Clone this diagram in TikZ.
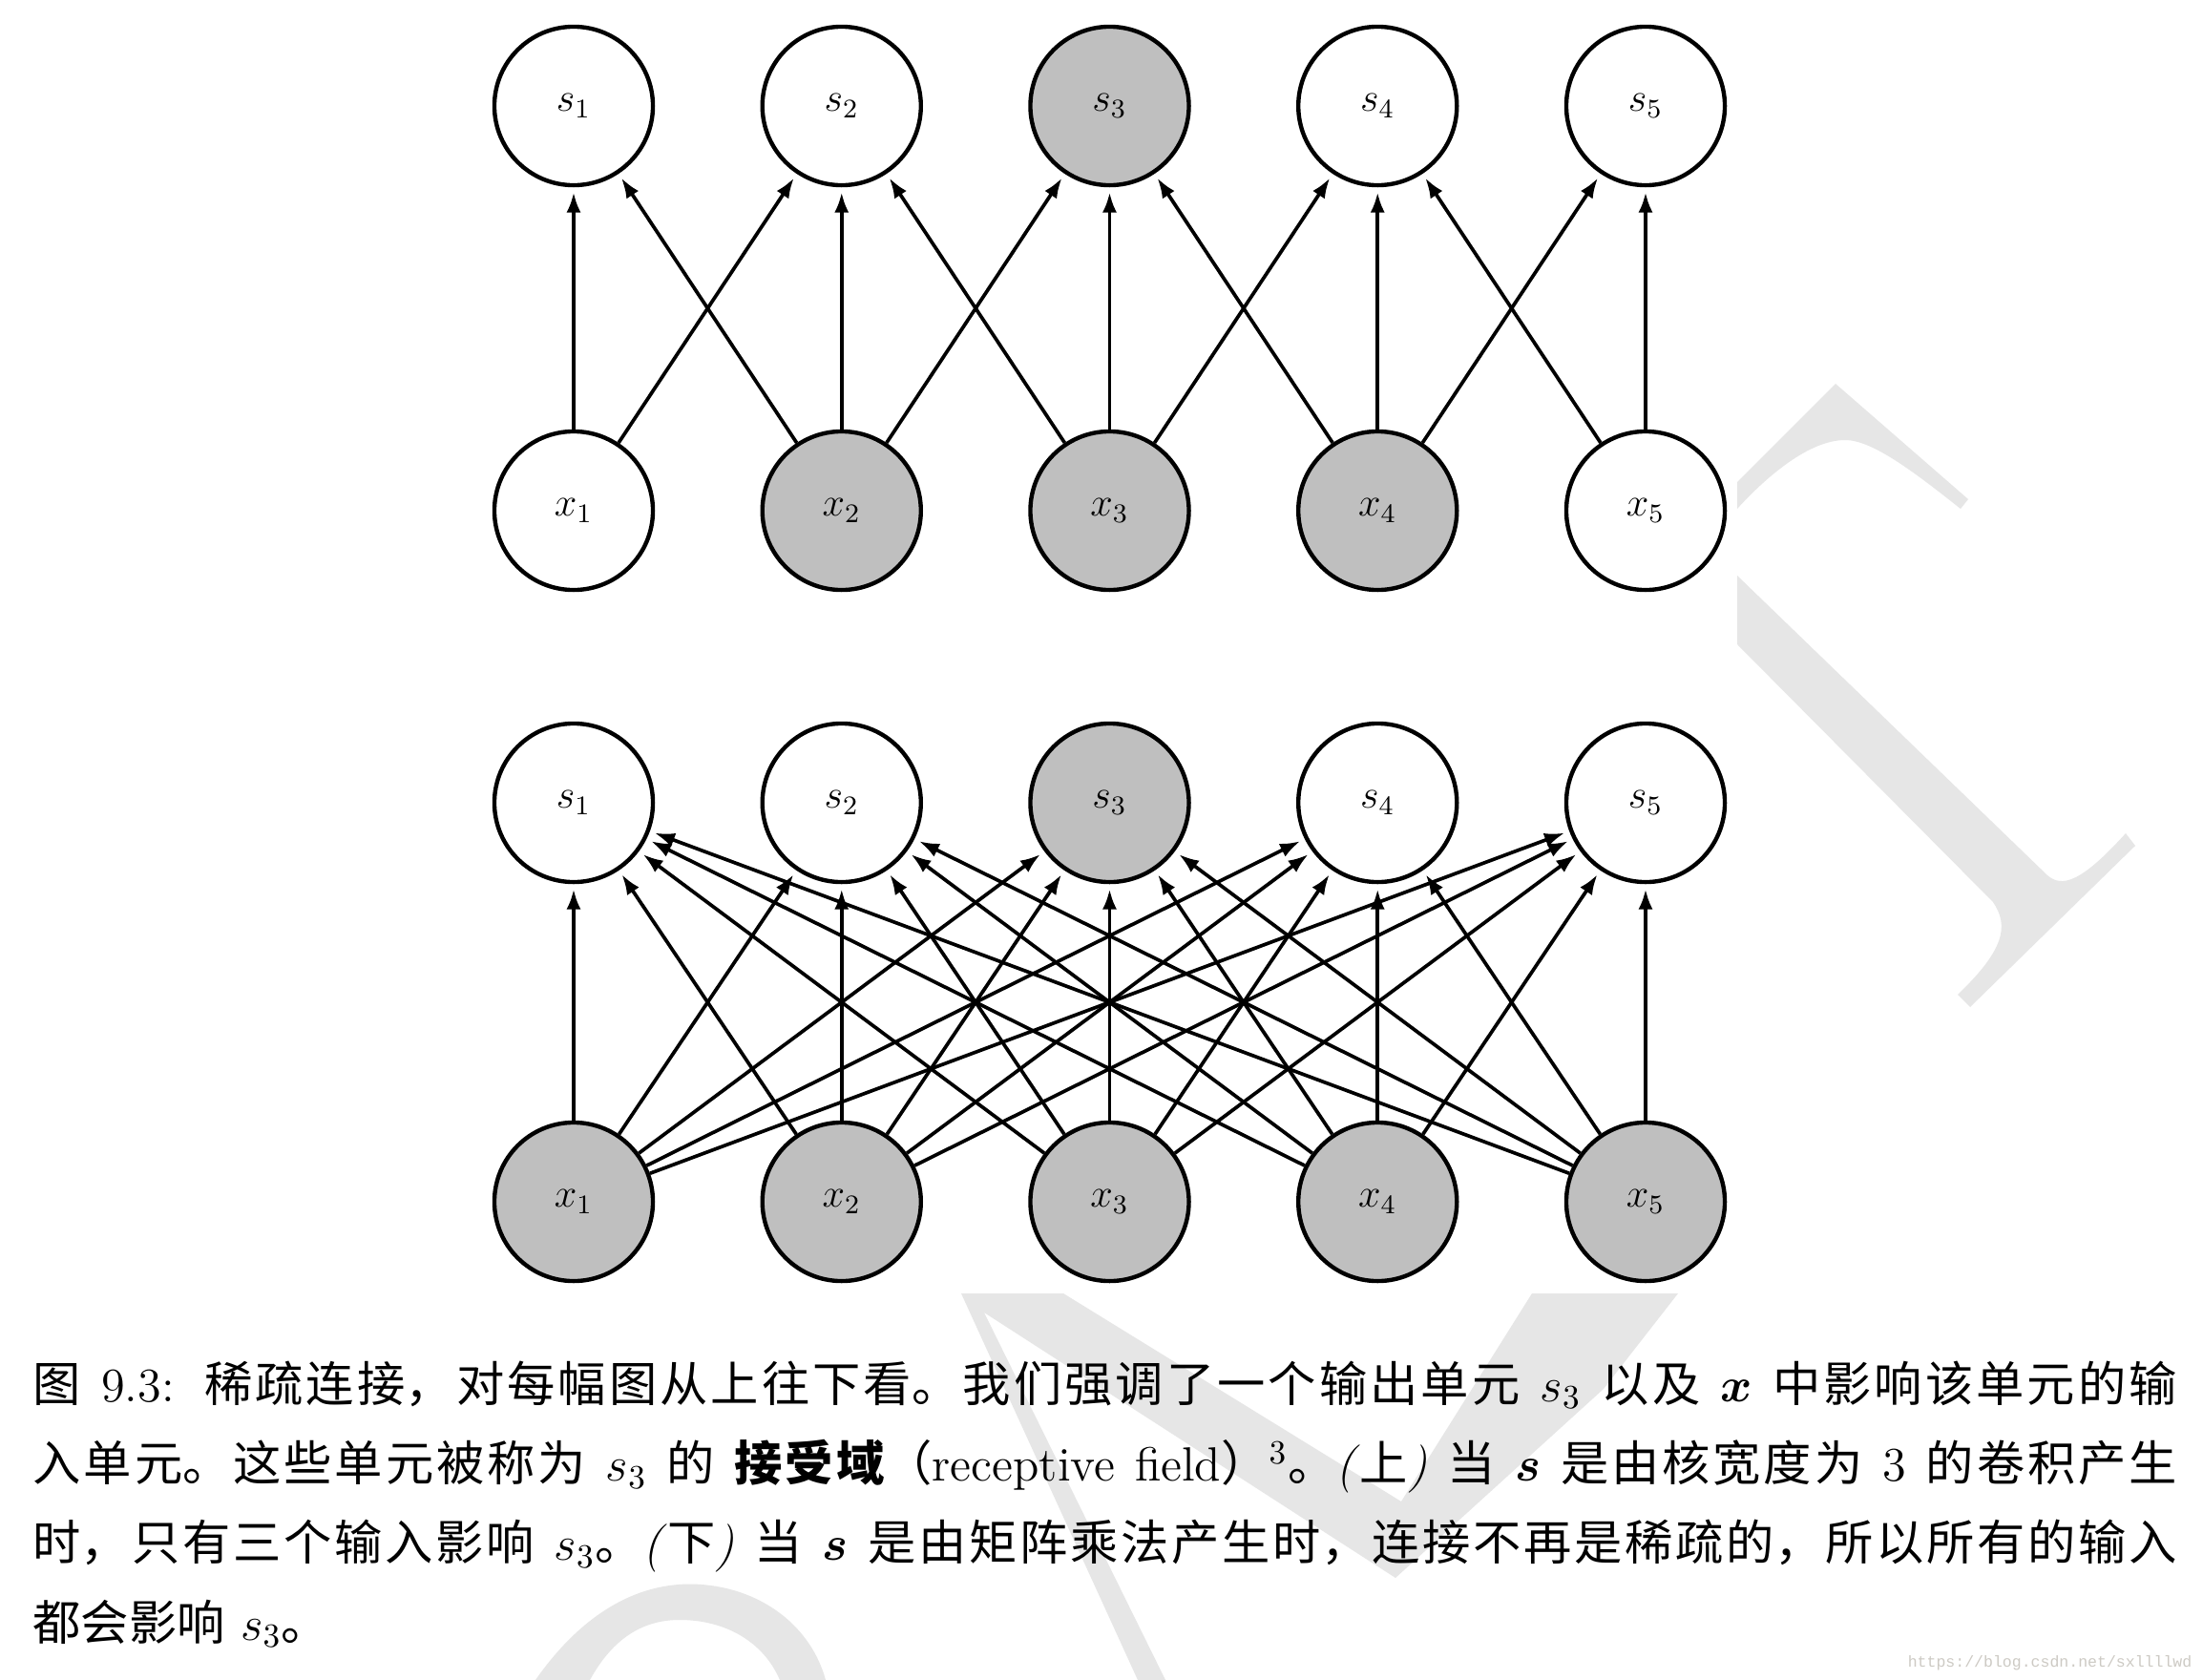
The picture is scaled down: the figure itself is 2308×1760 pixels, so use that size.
\documentclass[tikz,border=0pt]{standalone}
\usepackage{fontspec}
\usepackage{amsmath}
\usepackage{tikz}
\usetikzlibrary{arrows.meta, positioning, calc}
\newfontfamily\cjk{Noto Sans CJK SC}
\newfontfamily\urlfont{Liberation Mono}
\XeTeXlinebreaklocale "zh"
\XeTeXlinebreakskip = 0pt plus 1.5pt
\definecolor{unitgray}{RGB}{191,191,191}
\definecolor{markgray}{RGB}{230,230,230}
\definecolor{urlgray}{RGB}{205,202,196}
\tikzstyle{unit} = [circle, draw, line width=1.25pt, minimum size=1.66cm, inner sep=0pt, font=\fontsize{12}{14}\selectfont]
\tikzstyle{hit} = [unit, fill=unitgray]
\tikzstyle{arrow} = [line width=1.05pt, -{Latex[length=6pt,width=4.3pt]}, shorten >=1.5pt]
\tikzstyle{wmark} = [fill=markgray, draw=none]

\begin{document}
\begin{tikzpicture}[x=0.01cm, y=-0.01cm]
\fill[white] (0,0) rectangle (2308,1760);
\useasboundingbox (0,0) rectangle (2308,1760);

% watermark pieces
\path[wmark] (1820,505) -- (1923,402) -- (2062,523) -- (2054,533) .. controls (2000,490) and (1960,461) .. (1933,461) .. controls (1895,461) and (1850,500) .. (1820,533) -- cycle;
\path[wmark] (1820,603) -- (2145,917) .. controls (2160,930) and (2180,925) .. (2227,873) -- (2237,886) -- (2064,1055) -- (2051,1042) .. controls (2100,995) and (2105,970) .. (2088,945) -- (1820,675) -- cycle;
\path[wmark] (1007,1355) -- (1114,1355) -- (1468,1573) -- (1605,1355) -- (1758,1355) -- (1680,1455) -- (1462,1653) -- (1031,1375) -- (1221,1760) -- (1192,1760) -- cycle;
\path[wmark] (561,1760) .. controls (610,1690) and (670,1655) .. (735,1660) .. controls (800,1665) and (850,1705) .. (865,1760) -- (817,1760) .. controls (800,1720) and (760,1697) .. (712,1697) .. controls (670,1697) and (640,1720) .. (618,1760) -- cycle;

% sparse (top)
\foreach \i/\st in {1/unit,2/unit,3/hit,4/unit,5/unit}
  \node[\st] (ts\i) at ({601+280.75*(\i-1)},111) {$s_{\i}$};
\foreach \i/\st in {1/unit,2/hit,3/hit,4/hit,5/unit}
  \node[\st] (tx\i) at ({601+280.75*(\i-1)},535) {$x_{\i}$};
\foreach \i/\j in {1/1,1/2,2/1,2/2,2/3,3/2,3/3,3/4,4/3,4/4,4/5,5/4,5/5}
  \draw[arrow] (tx\i) -- (ts\j);

% dense (bottom)
\foreach \i/\st in {1/unit,2/unit,3/hit,4/unit,5/unit}
  \node[\st] (bs\i) at ({601+280.75*(\i-1)},841) {$s_{\i}$};
\foreach \i in {1,...,5}
  \node[hit] (bx\i) at ({601+280.75*(\i-1)},1259) {$x_{\i}$};
\foreach \i in {1,...,5}
  \foreach \j in {1,...,5}
    \draw[arrow] (bx\i) -- (bs\j);

\node[anchor=north west, inner sep=0pt, text width=22.45cm, align=justify, font=\fontsize{14.3}{23.7}\selectfont] (caption) at (34,1425) {%
{\cjk 图} 9.3: {\cjk 稀疏连接，对每幅图从上往下看。我们强调了一个输出单元} $s_3$ {\cjk 以及} $\boldsymbol{x}$ {\cjk 中影响该单元的输}\linebreak
{\cjk 入单元。这些单元被称为} $s_3$ {\cjk 的} {\cjk\bfseries 接受域}{\cjk （}receptive field{\cjk ）}$^3${\cjk 。}\textit{(}{\cjk 上}\textit{)} {\cjk 当} $\boldsymbol{s}$ {\cjk 是由核宽度为} 3 {\cjk 的卷积产生}\linebreak
{\cjk 时，只有三个输入影响} $s_3${\cjk 。}\textit{(}{\cjk 下}\textit{)} {\cjk 当} $\boldsymbol{s}$ {\cjk 是由矩阵乘法产生时，连接不再是稀疏的，所以所有的输入}\linebreak
{\cjk 都会影响} $s_3${\cjk 。}};

\node[anchor=base east, inner sep=0pt, text=urlgray, font=\urlfont\fontsize{4.7}{6}\selectfont] (url) at (2297,1746) {https://blog.csdn.net/sxllllwd};
\end{tikzpicture}
\end{document}
